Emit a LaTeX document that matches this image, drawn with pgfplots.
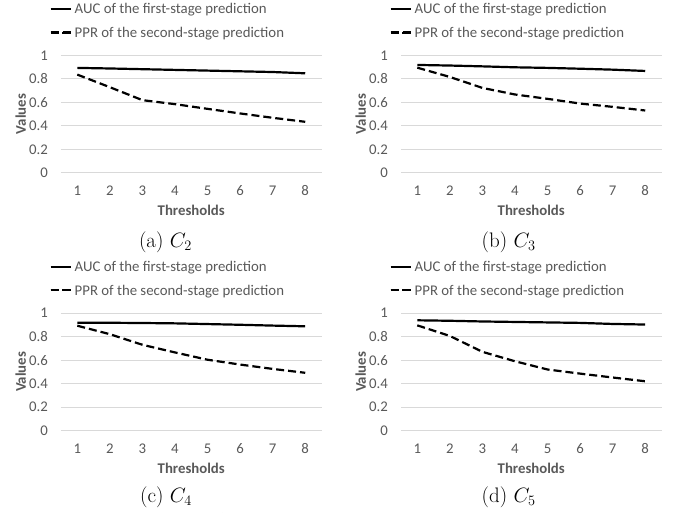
\documentclass[border=0pt]{standalone}
\usepackage{fontspec}
\usepackage{pgfplots}
\pgfplotsset{compat=1.18}
\newfontfamily\calibri{Carlito}
\newcommand\cf{\calibri\fontsize{14.8}{17}\selectfont}
\definecolor{txt}{HTML}{595959}
\definecolor{grd}{HTML}{D9D9D9}

\pgfplotsset{
  panel/.style={
    scale only axis, width=260.5pt, height=117.7pt,
    anchor=south west,
    xmin=0.5, xmax=8.5, ymin=0, ymax=1,
    xtick={1,2,3,4,5,6,7,8}, ytick={0,0.2,0.4,0.6,0.8,1},
    axis line style={draw=none}, major tick length=0pt, tick style={draw=none},
    ymajorgrids, major grid style={grd, line width=1pt},
    /pgf/number format/assume math mode=true,
    ticklabel style={font=\cf, text=txt},
    xticklabel style={anchor=base, inner sep=0pt, yshift=-22.3pt},
    yticklabel style={anchor=east, inner sep=0pt, xshift=-13pt},
    xlabel={Thresholds}, ylabel={Values},
    every axis x label/.style={at={(axis description cs:0.5,0)}, anchor=base,
      yshift=-42.3pt, font=\cf\bfseries, text=txt},
    every axis y label/.style={at={(axis description cs:-0.1344,0.5)}, rotate=90,
      anchor=base, font=\cf\bfseries, text=txt},
    legend cell align=left,
    legend style={draw=none, fill=none, inner sep=0pt, outer sep=0pt,
      at={(axis description cs:0,1)}, anchor=north west,
      xshift=-11.5pt, yshift=50.8pt, row sep=13.8pt, column sep=0pt,
      font=\cf, text=txt,
      nodes={inner xsep=3pt, inner ysep=0pt, text height=9.5pt, text depth=0pt}},
  },
  auc/.style={black, line width=2.2pt, no marks,
    legend image code/.code={\draw[##1, line width=2pt] (0pt,0pt) -- (20pt,0pt);}},
  ppr/.style={black, line width=2.2pt, no marks, dash pattern=on 8pt off 4pt,
    legend image code/.code={\path (0pt,0pt) -- (20pt,0pt);
      \draw[##1, line width=2pt, dash pattern=on 6.7pt off 5pt] (0pt,0pt) -- (18.3pt,0pt);}},
}

\begin{document}
\begin{tikzpicture}
% (a) C2
\begin{axis}[panel, at={(61pt,339pt)}]
\addplot[auc] coordinates {(1,0.893) (2,0.888) (3,0.882) (4,0.876) (5,0.870) (6,0.864) (7,0.858) (8,0.847)};
\addplot[ppr] coordinates {(1,0.836) (2,0.729) (3,0.619) (4,0.585) (5,0.545) (6,0.506) (7,0.469) (8,0.435)};
\legend{AUC of the first-stage prediction, PPR of the second-stage prediction}
\end{axis}
% (b) C3
\begin{axis}[panel, at={(401pt,339pt)}]
\addplot[auc] coordinates {(1,0.918) (2,0.913) (3,0.906) (4,0.898) (5,0.893) (6,0.886) (7,0.878) (8,0.867)};
\addplot[ppr] coordinates {(1,0.895) (2,0.816) (3,0.723) (4,0.667) (5,0.630) (6,0.590) (7,0.562) (8,0.531)};
\legend{AUC of the first-stage prediction, PPR of the second-stage prediction}
\end{axis}
% (c) C4
\begin{axis}[panel, at={(61pt,81.3pt)}]
\addplot[auc] coordinates {(1,0.918) (2,0.917) (3,0.915) (4,0.912) (5,0.906) (6,0.900) (7,0.893) (8,0.887)};
\addplot[ppr] coordinates {(1,0.892) (2,0.820) (3,0.730) (4,0.665) (5,0.603) (6,0.562) (7,0.525) (8,0.492)};
\legend{AUC of the first-stage prediction, PPR of the second-stage prediction}
\end{axis}
% (d) C5
\begin{axis}[panel, at={(401pt,81.3pt)}]
\addplot[auc] coordinates {(1,0.938) (2,0.934) (3,0.928) (4,0.924) (5,0.920) (6,0.916) (7,0.907) (8,0.902)};
\addplot[ppr] coordinates {(1,0.895) (2,0.805) (3,0.670) (4,0.590) (5,0.520) (6,0.485) (7,0.452) (8,0.420)};
\legend{AUC of the first-stage prediction, PPR of the second-stage prediction}
\end{axis}

\begin{scope}[every node/.style={font=\fontsize{21}{25}\selectfont, anchor=base, inner sep=0pt}]
\node at (165.5pt,265pt) {(a) $C_2$};
\node at (508.7pt,265pt) {(b) $C_3$};
\node at (166pt,9.5pt) {(c) $C_4$};
\node at (508.7pt,9.5pt) {(d) $C_5$};
\node[anchor=base west, font=\fontsize{20}{24}\selectfont] at (3pt,-15pt) {Fig. 3: Prediction Results for};
\end{scope}

\pgfresetboundingbox
\path (0pt,0pt) rectangle (677pt,512pt);
\end{tikzpicture}
\end{document}
